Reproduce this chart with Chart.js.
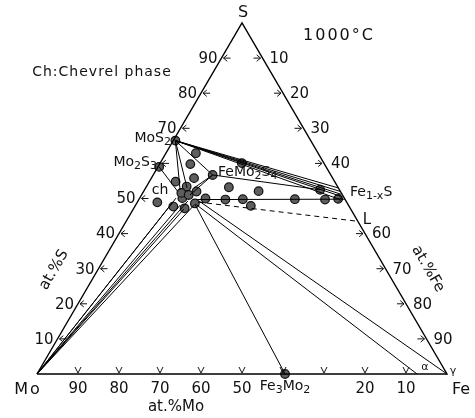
<!DOCTYPE html>
<html lang="en">
<head>
<meta charset="UTF-8">
<title>Mo-Fe-S 1000°C</title>
<script src="https://cdn.jsdelivr.net/npm/chart.js"></script>
<style>
  body { margin: 0; background: #fff; }
  #wrap { width: 475px; height: 418px; }
</style>
</head>
<body>
<div id="wrap"><canvas id="diagrama" width="475" height="418"></canvas></div>
<script>
// compositions in at.% : [S, Fe]  (Mo = 100 - S - Fe)
const dotS  = [66.5, 59.0, 62.9, 59.8, 60.1, 56.7, 55.8, 54.8, 53.2, 52.1, 52.5, 49.7, 49.9, 49.8,
               49.8, 49.7, 50.0, 47.9, 48.6, 47.2, 47.7, 50.1, 53.4, 48.9, 51.6, 51.0, 52.0, 0];
const dotFe = [0.5, 0.3, 7.3, 7.5, 19.9, 14.5, 10.4, 6.4, 20.2, 28.0, 42.8, 45.4, 48.5, 38.0,
               25.3, 21.1, 16.1, 28.2, 14.2, 12.4, 9.4, 10.4, 9.8, 4.9, 9.4, 11.5, 12.9, 60.5];

const MoS2 = [66.5, 0.5];
const Mo2S3 = [59.0, 0.3];
const FeMo2S4 = [56.7, 14.5];
const Mo = [0, 0];

// tie lines [from, to]
const tieLines = [
  [MoS2, [53.0, 47.0]], [MoS2, [52.0, 48.0]], [MoS2, [51.2, 48.6]], [MoS2, [50.5, 49.2]], [MoS2, [49.9, 48.5]],
  [MoS2, FeMo2S4], [FeMo2S4, [52.5, 42.8]],
  [MoS2, [52.4, 8.7]], [MoS2, [53.0, 10.1]],
  [Mo2S3, [51.9, 8.45]],
  [FeMo2S4, [53.0, 11.8]], [FeMo2S4, [51.0, 11.8]],
  [[49.7, 14.2], [49.8, 50.2]],
  [[48.4, 14.3], [0, 60.5]],
  [[48.4, 14.5], [0, 92.7]],
  [[49.3, 14.85], [0, 100]],
  [Mo, [48.7, 8.6]], [Mo, [50.1, 8.85]], [Mo, [48.1, 10.85]],
  [Mo, [47.0, 12.35]], [Mo, [49.3, 12.15]], [Mo, [48.1, 14.25]]
];
const liquidLine = [[49.0, 14.8], [43.5, 56.5]];

const tickValues = [10, 20, 30, 40, 50, 60, 70, 80, 90];
const rotulosS  = ['10', '20', '30', '40', '50', '', '70', '80', '90'];   // at.% S, left edge
const rotulosFe = ['10', '20', '30', '40', '', '60', '70', '80', '90'];   // at.% Fe, right edge
const rotulosMo = ['10', '20', '', '', '50', '60', '70', '80', '90'];     // at.% Mo, bottom edge

const H = Math.sqrt(3) / 2;
function toXY(c) { return { x: c[1] + c[0] / 2, y: c[0] * H }; }

const datasets = [];
datasets.push({
  data: [toXY([0, 0]), toXY([0, 100]), toXY([100, 0]), toXY([0, 0])],
  showLine: true, borderColor: '#000', borderWidth: 1.4, pointRadius: 0, clip: false
});
tieLines.forEach(l => datasets.push({
  data: l.map(toXY), showLine: true, borderColor: '#000', borderWidth: 1, pointRadius: 0, clip: false
}));
datasets.push({
  data: liquidLine.map(toXY), showLine: true, borderColor: '#000', borderWidth: 1,
  borderDash: [5, 4], pointRadius: 0, clip: false
});
datasets.push({
  data: dotS.map((s, i) => toXY([s, dotFe[i]])), showLine: false,
  pointRadius: 4.3, pointBackgroundColor: '#5e5e5e', pointBorderColor: '#111', pointBorderWidth: 1.2, clip: false
});

const FONTE = '"DejaVu Sans", sans-serif';

const textoTernario = {
  id: 'textoTernario',
  afterDraw(chart) {
    const ctx = chart.ctx;
    const sx = chart.scales.x, sy = chart.scales.y;
    const px = c => { const p = toXY(c); return [sx.getPixelForValue(p.x), sy.getPixelForValue(p.y)]; };

    function texto(str, x, y, align, size, spacing, rot) {
      ctx.save();
      ctx.font = size + 'px ' + FONTE;
      ctx.letterSpacing = (spacing || 0) + 'px';
      ctx.fillStyle = '#111';
      ctx.textAlign = align || 'center';
      ctx.textBaseline = 'middle';
      ctx.translate(x, y);
      if (rot) ctx.rotate(rot);
      ctx.fillText(str, 0, 0);
      ctx.restore();
    }
    // formula with subscripts written as X_{n}
    function formula(str, x, y, align, size) {
      const partes = [];
      str.split(/(_\{[^}]*\})/).forEach(p => {
        if (!p) return;
        if (p.startsWith('_{')) partes.push([p.slice(2, -1), true]);
        else partes.push([p, false]);
      });
      ctx.save();
      ctx.fillStyle = '#111';
      ctx.textBaseline = 'middle';
      ctx.textAlign = 'left';
      const sub = Math.round(size * 0.78);
      let total = 0;
      partes.forEach(([t, s]) => {
        ctx.font = (s ? sub : size) + 'px ' + FONTE;
        total += ctx.measureText(t).width;
      });
      let cx = align === 'right' ? x - total : align === 'center' ? x - total / 2 : x;
      partes.forEach(([t, s]) => {
        ctx.font = (s ? sub : size) + 'px ' + FONTE;
        ctx.fillText(t, cx, s ? y + size * 0.3 : y);
        cx += ctx.measureText(t).width;
      });
      ctx.restore();
    }
    function seta(x, y, dx, dy) {
      // arrow with its tip on the edge
      const ang = Math.atan2(dy, dx);
      ctx.save();
      ctx.strokeStyle = '#111';
      ctx.lineWidth = 1;
      ctx.beginPath();
      ctx.moveTo(x - dx * 7, y - dy * 7);
      ctx.lineTo(x, y);
      ctx.moveTo(x - 5 * Math.cos(ang - 0.7), y - 5 * Math.sin(ang - 0.7));
      ctx.lineTo(x, y);
      ctx.lineTo(x - 5 * Math.cos(ang + 0.7), y - 5 * Math.sin(ang + 0.7));
      ctx.stroke();
      ctx.restore();
    }
    function vee(x, y) {
      ctx.save();
      ctx.strokeStyle = '#111';
      ctx.lineWidth = 1;
      ctx.beginPath();
      ctx.moveTo(x - 3, y - 6);
      ctx.lineTo(x, y);
      ctx.lineTo(x + 3, y - 6);
      ctx.stroke();
      ctx.restore();
    }

    tickValues.forEach((v, i) => {
      let [x, y] = px([v, 0]);
      seta(x + 2, y, -1, 0);
      if (rotulosS[i]) texto(rotulosS[i], x - 4, y + 1, 'right', 15);
      [x, y] = px([100 - v, v]);
      seta(x - 2, y, 1, 0);
      if (rotulosFe[i]) texto(rotulosFe[i], x + 7, y + 1, 'left', 15);
      [x, y] = px([0, 100 - v]);
      vee(x, y - 1);
      if (rotulosMo[i]) texto(rotulosMo[i], x, y + 15, 'center', 15);
    });

    // vertices
    texto('S', 243, 13, 'center', 16);
    texto('Mo', 28, 390, 'center', 16, 2);
    texto('Fe', 461, 390, 'center', 16);
    texto('α', 425, 367, 'center', 11);
    texto('γ', 453, 371, 'center', 11);

    // axis titles
    texto('at.%Mo', 176, 407, 'center', 15);
    texto('at.%S', 54, 270, 'center', 15, 0, -Math.PI / 3);
    texto('at.%Fe', 428, 269, 'center', 15, 0, Math.PI / 3);

    // phases
    formula('MoS_{2}', 171, 138, 'right', 14);
    formula('Mo_{2}S_{3}', 157, 162, 'right', 14);
    formula('FeMo_{2}S_{4}', 218, 172, 'left', 14);
    formula('Fe_{1-x}S', 350, 192, 'left', 14);
    formula('Fe_{3}Mo_{2}', 285, 386, 'center', 14);
    texto('ch', 160, 190, 'center', 14);
    texto('L', 367, 220, 'center', 15);

    texto('1000°C', 339, 36, 'center', 16, 2);
    texto('Ch:Chevrel phase', 102, 72, 'center', 14, 1);
  }
};

new Chart(document.getElementById('diagrama').getContext('2d'), {
  type: 'scatter',
  data: { datasets },
  options: {
    responsive: false,
    animation: false,
    layout: { padding: { left: 37, right: 28, top: 23, bottom: 44 } },
    plugins: { legend: { display: false }, tooltip: { enabled: false } },
    scales: {
      x: { type: 'linear', min: 0, max: 100, display: false },
      y: { type: 'linear', min: 0, max: 100 * H, display: false }
    }
  },
  plugins: [textoTernario]
});
</script>
</body>
</html>
